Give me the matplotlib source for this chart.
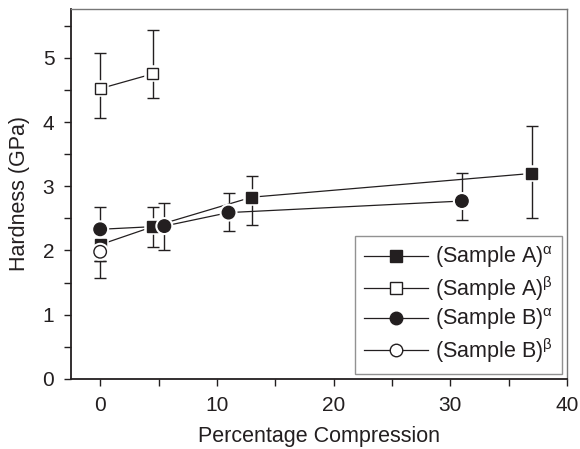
import matplotlib
matplotlib.use("Agg")
import matplotlib.pyplot as plt
import matplotlib.patheffects as pe
from matplotlib.ticker import MultipleLocator

plt.rcParams["font.family"] = ["Liberation Sans", "DejaVu Sans"]
plt.rcParams["mathtext.default"] = "regular"

# Sample A, alpha phase (filled squares)
a_alpha_x = [0, 4.5, 13, 37]
a_alpha_y = [2.09, 2.37, 2.83, 3.20]
a_alpha_lo = [0.25, 0.31, 0.43, 0.69]
a_alpha_hi = [0.25, 0.31, 0.33, 0.74]

# Sample A, beta phase (open squares)
a_beta_x = [0, 4.5]
a_beta_y = [4.52, 4.75]
a_beta_lo = [0.45, 0.37]
a_beta_hi = [0.56, 0.69]

# Sample B, alpha phase (filled circles)
b_alpha_x = [0, 5.5, 11, 31]
b_alpha_y = [2.33, 2.38, 2.59, 2.77]
b_alpha_lo = [0.49, 0.37, 0.29, 0.29]
b_alpha_hi = [0.35, 0.36, 0.31, 0.44]

# Sample B, beta phase (open circles)
b_beta_x = [0]
b_beta_y = [1.98]
b_beta_lo = [0.41]
b_beta_hi = [0.40]

series = [
    ("(Sample A)$^{\\alpha}$", a_alpha_x, a_alpha_y, a_alpha_lo, a_alpha_hi, "s", "#231f20"),
    ("(Sample A)$^{\\beta}$", a_beta_x, a_beta_y, a_beta_lo, a_beta_hi, "s", "white"),
    ("(Sample B)$^{\\alpha}$", b_alpha_x, b_alpha_y, b_alpha_lo, b_alpha_hi, "o", "#231f20"),
    ("(Sample B)$^{\\beta}$", b_beta_x, b_beta_y, b_beta_lo, b_beta_hi, "o", "white"),
]

fig = plt.figure(figsize=(5.8, 4.49), dpi=100)
ax = fig.add_axes([0.1224, 0.156, 0.855, 0.824])

ink = "#231f20"
halo = [pe.Stroke(linewidth=4, foreground="white"), pe.Normal()]

for label, x, y, lo, hi, mk, face in series:
    ax.errorbar(x, y, yerr=[lo, hi], fmt="none", ecolor=ink, elinewidth=1.0,
                capsize=4, capthick=1.0, zorder=2)
    ax.plot(x, y, color=ink, lw=0.9, zorder=3)
    ms = 8 if mk == "s" else 9
    ax.plot(x, y, ls="none", marker=mk, ms=ms, mfc=face, mec=ink, mew=1.0,
            zorder=4, path_effects=halo)
    # legend proxy
    ax.plot([], [], color=ink, lw=0.9, marker=mk, ms=ms, mfc=face, mec=ink,
            mew=1.0, label=label)

ax.set_xlim(-2.5, 40)
ax.set_ylim(0, 5.76)
ax.xaxis.set_major_locator(MultipleLocator(10))
ax.xaxis.set_minor_locator(MultipleLocator(5))
ax.yaxis.set_major_locator(MultipleLocator(1))
ax.yaxis.set_minor_locator(MultipleLocator(0.5))

ax.tick_params(which="both", direction="out", color=ink, labelcolor=ink,
               labelsize=15, width=1.0)
ax.tick_params(which="major", length=5, pad=7)
ax.tick_params(which="minor", length=5)

for side in ["left", "bottom"]:
    ax.spines[side].set_color(ink)
    ax.spines[side].set_linewidth(1.3)
for side in ["top", "right"]:
    ax.spines[side].set_color("#777777")
    ax.spines[side].set_linewidth(1.0)

ax.set_xlabel("Percentage Compression", fontsize=15.5, color=ink, labelpad=8)
ax.set_ylabel("Hardness (GPa)", fontsize=15.5, color=ink, labelpad=9)

leg = ax.legend(loc="lower right", fontsize=15.5, frameon=True, fancybox=False,
                edgecolor="#777777", handlelength=3.0, borderpad=0.4,
                labelspacing=0.18, handletextpad=0.3, borderaxespad=0.25)
leg.get_frame().set_linewidth(1.0)
leg.set_zorder(6)
for t in leg.get_texts():
    t.set_color(ink)

fig.savefig("out.png", dpi=100)
